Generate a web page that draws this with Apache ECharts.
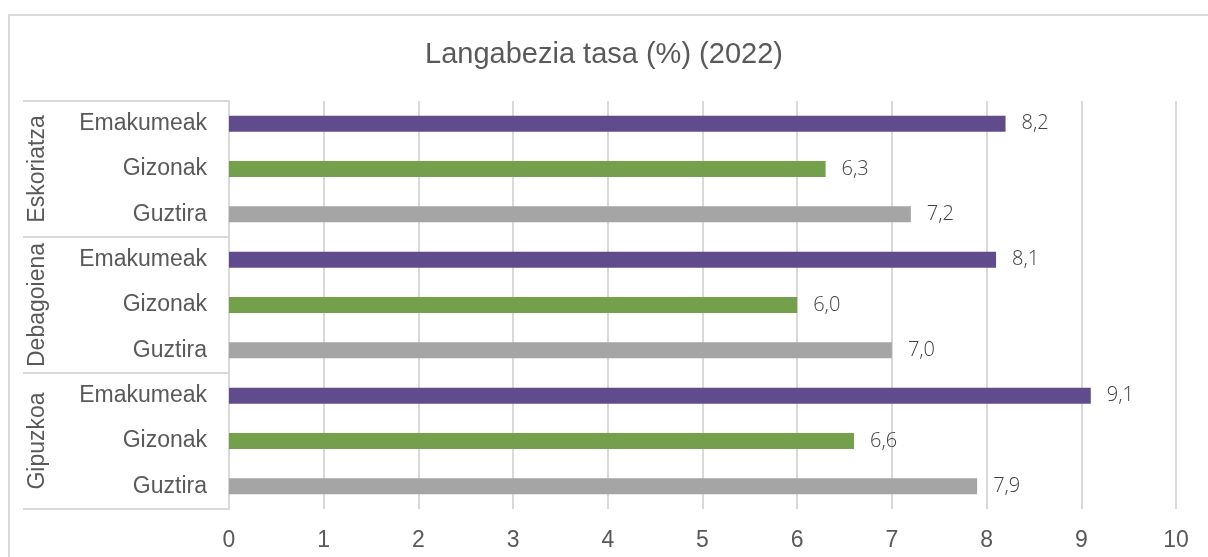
<!DOCTYPE html>
<html>
<head>
<meta charset="utf-8">
<script src="https://cdn.jsdelivr.net/npm/echarts@6/dist/echarts.min.js"></script>
<style>
  html, body { margin: 0; padding: 0; background: #fff; }
  #wrap { position: relative; width: 1208px; height: 557px; overflow: hidden; }
  #frame { position: absolute; left: 8px; top: 14px; width: 1300px; height: 700px; border: 2px solid #D9D9D9; box-sizing: border-box; }
  #main { position: absolute; left: 0; top: 0; width: 1208px; height: 557px; }
</style>
</head>
<body>
<div id="wrap">
  <div id="frame"></div>
  <div id="main"></div>
</div>
<script>
// datuak
var groups = ['Eskoriatza', 'Debagoiena', 'Gipuzkoa'];
var subs = ['Emakumeak', 'Gizonak', 'Guztira'];
var eskoriatza = [8.2, 6.3, 7.2];
var debagoiena = [8.1, 6.0, 7.0];
var gipuzkoa = [9.1, 6.6, 7.9];
var colors = ['#604B8D', '#74A04C', '#A5A5A5'];

var values = [eskoriatza, debagoiena, gipuzkoa];
var cats = [];
var data = [];
groups.forEach(function (g, gi) {
    subs.forEach(function (s, si) {
        cats.push(s);
        data.push({ value: values[gi][si], itemStyle: { color: colors[si] } });
    });
});

var chart = echarts.init(document.getElementById('main'));
chart.setOption({
    animation: false,
    title: {
        text: 'Langabezia tasa (%) (2022)',
        left: 'center',
        top: 35,
        textStyle: { fontFamily: 'Liberation Sans', fontSize: 29, fontWeight: 'normal', color: '#595959' }
    },
    grid: { left: 229, right: 32, top: 101, bottom: 48 },
    xAxis: {
        type: 'value',
        min: 0,
        max: 10,
        interval: 1,
        axisLine: { show: false },
        axisTick: { show: false },
        axisLabel: { fontFamily: 'Liberation Sans', fontSize: 23, color: '#595959', margin: 20 },
        splitLine: { lineStyle: { color: '#D9D9D9', width: 2 } }
    },
    yAxis: [{
        type: 'category',
        data: cats,
        inverse: true,
        axisLine: { show: true, lineStyle: { color: '#D9D9D9', width: 2 } },
        axisTick: { show: false },
        axisLabel: { interval: 0, fontFamily: 'Liberation Sans', fontSize: 23, color: '#595959', margin: 22 }
    }, {
        type: 'category',
        data: groups,
        inverse: true,
        position: 'left',
        axisLine: { show: false },
        axisTick: { show: true, interval: 0, length: 206, lineStyle: { color: '#D9D9D9', width: 2 } },
        axisLabel: { interval: 0, fontFamily: 'Liberation Sans', fontSize: 23, color: '#595959', rotate: 90, margin: 180 }
    }],
    series: [{
        type: 'bar',
        yAxisIndex: 0,
        barWidth: 16,
        data: data,
        label: {
            show: true,
            position: 'right',
            distance: 16,
            fontFamily: 'Open Sans',
            fontWeight: 300,
            fontSize: 20,
            color: '#404040',
            formatter: function (p) { return p.value.toFixed(1).replace('.', ','); }
        }
    }]
});
</script>
</body>
</html>
